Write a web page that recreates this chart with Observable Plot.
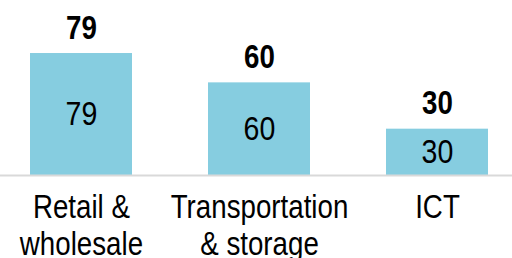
<!DOCTYPE html>
<html>
<head>
<meta charset="utf-8">
<script src="https://cdn.jsdelivr.net/npm/d3@7"></script>
<script src="https://cdn.jsdelivr.net/npm/@observablehq/plot@0.6"></script>
<style>
  html, body { margin: 0; padding: 0; background: #fff; }
</style>
</head>
<body>
<div id="chart"></div>
<script>
const categories = ["Retail & wholesale", "Transportation & storage", "ICT"];
const values = [79, 60, 30];
const tickLabels = ["Retail &\nwholesale", "Transportation\n& storage", "ICT"];

const data = categories.map((c, i) => ({category: c, value: values[i]}));
const labelOf = new Map(categories.map((c, i) => [c, tickLabels[i]]));

const font = "'Liberation Sans', Arial, sans-serif";

const chart = Plot.plot({
  width: 512,
  height: 258,
  marginLeft: 0,
  marginRight: 0,
  marginTop: 20.6,
  marginBottom: 83,
  style: {fontFamily: font, color: "#000", background: "#fff"},
  x: {domain: categories, range: [30, 488], paddingInner: 0.427, paddingOuter: 0},
  y: {domain: [0, 100], axis: null},
  marks: [
    Plot.barY(data, {x: "category", y: "value", fill: "#86cde0"}),
    Plot.ruleY([0], {stroke: "#d9d9d9", strokeWidth: 2}),
    Plot.text(data, {x: "category", y: "value", text: d => String(d.value), fontWeight: "bold", fontSize: 33, lineAnchor: "bottom", dy: -15, fill: "#000"}),
    Plot.text(data, {x: "category", y: d => d.value / 2, text: d => String(d.value), fontSize: 34, lineAnchor: "middle", fill: "#000"}),
    Plot.axisX({tickSize: 0, tickPadding: 16.5, fontSize: 33, lineHeight: 1.12, tickFormat: d => labelOf.get(d), label: null, fill: "#000", color: "#000"})
  ]
});
document.getElementById("chart").appendChild(chart);

// condense text horizontally (narrow typeface look), keeping each label centred
chart.querySelectorAll("text").forEach(t => {
  const b = t.getBBox();
  const cx = b.x + b.width / 2;
  const prev = t.getAttribute("transform") || "";
  t.setAttribute("transform", `${prev} translate(${cx},0) scale(0.84,1) translate(${-cx},0)`);
});
</script>
</body>
</html>
